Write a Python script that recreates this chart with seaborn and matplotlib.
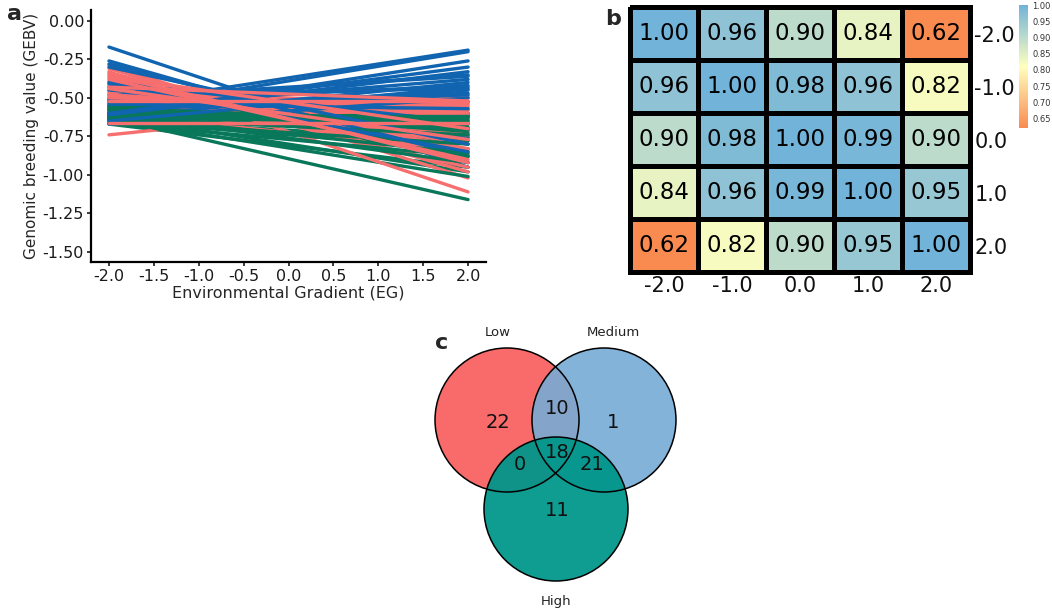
import numpy as np
import pandas as pd
import seaborn as sns
import matplotlib.pyplot as plt
from matplotlib.colors import LinearSegmentedColormap
from matplotlib.patches import Circle

# Panel a: GEBV de cada genotipo en los extremos del gradiente (EG = -2 y EG = 2)
eg_extremos = [-2.0, 2.0]

medium_ini = [-0.17, -0.26, -0.28, -0.41, -0.43, -0.45, -0.40, -0.30,
              -0.55, -0.58, -0.62, -0.60, -0.52, -0.57, -0.63, -0.65, -0.60, -0.56,
              -0.67, -0.54, -0.50, -0.53, -0.58, -0.61, -0.48, -0.51]
medium_fin = [-0.95, -0.92, -0.88, -0.85, -0.75, -0.60, -0.66, -0.80,
              -0.19, -0.20, -0.26, -0.30, -0.35, -0.38, -0.40, -0.43, -0.45, -0.47,
              -0.50, -0.57, -0.36, -0.42, -0.48, -0.33, -0.44, -0.53]

low_ini = [-0.29, -0.31, -0.33, -0.35, -0.37, -0.39, -0.42, -0.44, -0.46, -0.48,
           -0.50, -0.52, -0.55, -0.58, -0.62, -0.66, -0.74, -0.40, -0.47, -0.36,
           -0.45, -0.49, -0.53, -0.43, -0.51, -0.57, -0.34, -0.38, -0.60]
low_fin = [-1.02, -0.98, -1.11, -0.92, -0.88, -0.83, -0.80, -0.77, -0.72, -0.62,
           -0.56, -0.52, -0.49, -0.54, -0.58, -0.66, -0.50, -0.95, -0.87, -0.70,
           -0.55, -0.58, -0.60, -0.52, -0.65, -0.74, -0.84, -0.90, -0.85]

high_ini = [-0.53, -0.55, -0.57, -0.58, -0.60, -0.61, -0.62, -0.63, -0.64, -0.65,
            -0.66, -0.60, -0.62, -0.64, -0.63, -0.56, -0.59,
            -0.57, -0.60, -0.62, -0.64, -0.58, -0.65, -0.61, -0.67]
high_fin = [-0.60, -0.63, -0.65, -0.67, -0.69, -0.71, -0.62, -0.74, -0.78, -0.83,
            -0.88, -0.92, -0.98, -1.01, -1.16, -0.70, -0.76,
            -0.61, -0.64, -0.67, -0.70, -0.73, -0.80, -0.86, -0.95]

# Panel b: correlaciones entre niveles del gradiente
eg_labels = ['-2.0', '-1.0', '0.0', '1.0', '2.0']
corr = np.array([
    [1.00, 0.96, 0.90, 0.84, 0.62],
    [0.96, 1.00, 0.98, 0.96, 0.82],
    [0.90, 0.98, 1.00, 0.99, 0.90],
    [0.84, 0.96, 0.99, 1.00, 0.95],
    [0.62, 0.82, 0.90, 0.95, 1.00],
])

# Panel c: conteos del diagrama de Venn
venn_sets = ['Low', 'Medium', 'High']
venn_counts = [22, 1, 11, 10, 0, 21, 18]  # L, M, H, LM, LH, MH, LMH

colores = {'Low': '#f76e6e', 'Medium': '#1064b0', 'High': '#08775a'}

# armar tabla larga para seaborn; 'capa' sirve para intercalar el orden de dibujo
n_capas = 4
filas = []
for grupo, ini, fin in [('Medium', medium_ini, medium_fin), ('Low', low_ini, low_fin),
                        ('High', high_ini, high_fin)]:
    for i, (a, b) in enumerate(zip(ini, fin)):
        filas.append((f'{grupo}{i}', grupo, i % n_capas, eg_extremos[0], a))
        filas.append((f'{grupo}{i}', grupo, i % n_capas, eg_extremos[1], b))
df = pd.DataFrame(filas, columns=['id', 'grupo', 'capa', 'EG', 'GEBV'])

sns.set_theme(style='ticks')
plt.rcParams['font.family'] = ['DejaVu Sans']
plt.rcParams['axes.unicode_minus'] = False

fig = plt.figure(figsize=(10.52, 6.10), dpi=100)

# 1 Panel a
ax_a = fig.add_axes([0.0865, 0.5705, 0.3755, 0.413])
ordenes = [['High', 'Low', 'Medium'], ['Medium', 'High', 'Low'],
           ['Low', 'Medium', 'High'], ['High', 'Medium', 'Low']]
for k in range(n_capas):
    sns.lineplot(data=df[df['capa'] == k], x='EG', y='GEBV', hue='grupo', units='id',
                 estimator=None, hue_order=ordenes[k], palette=colores, lw=2.4,
                 legend=False, ax=ax_a)
ax_a.set_xlim(-2.2, 2.2)
ax_a.set_ylim(-1.565, 0.07)
xt = np.arange(-2, 2.01, 0.5)
ax_a.set_xticks(xt)
ax_a.set_xticklabels([f'{v:.1f}' for v in xt])
yt = np.arange(-1.5, 0.01, 0.25)
ax_a.set_yticks(yt)
ax_a.set_yticklabels([f'{v:.2f}' for v in yt])
ax_a.tick_params(labelsize=11.5, length=3, width=1.2, colors='#1a1a1a', pad=2)
ax_a.set_xlabel('Environmental Gradient (EG)', fontsize=11.5, labelpad=1)
ax_a.set_ylabel('Genomic breeding value (GEBV)', fontsize=11, labelpad=3)
sns.despine(ax=ax_a)
for s in ['left', 'bottom']:
    ax_a.spines[s].set_linewidth(1.6)
    ax_a.spines[s].set_color('black')

# 2 Panel b
cmap = LinearSegmentedColormap.from_list('oyb', ['#f98a50', '#ffffbf', '#72b3d9'])
ax_b = fig.add_axes([0.5989, 0.554, 0.3232, 0.434])
ax_cb = fig.add_axes([0.9686, 0.790, 0.0086, 0.2016])
sns.heatmap(corr, annot=True, fmt='.2f', cmap=cmap, linewidths=3.6, linecolor='black',
            xticklabels=eg_labels, yticklabels=eg_labels, cbar_ax=ax_cb,
            annot_kws={'size': 16.5, 'color': 'black'}, ax=ax_b)
ax_b.collections[0].set_clip_on(False)
ax_b.yaxis.tick_right()
ax_b.tick_params(length=0, labelsize=15, pad=3, colors='#111111')
plt.setp(ax_b.get_yticklabels(), rotation=0)
plt.setp(ax_b.get_xticklabels(), rotation=0)
cb = ax_b.collections[0].colorbar
cb.outline.set_visible(False)
cb.set_ticks(np.arange(0.65, 1.001, 0.05))
cb.set_ticklabels([f'{v:.2f}' for v in np.arange(0.65, 1.001, 0.05)])
ax_cb.tick_params(labelsize=6, length=0, pad=3, colors='#333333')

# 3 Panel c: Venn en coordenadas de pixel
ax_c = fig.add_axes([0, 0, 1, 1], zorder=-1)
ax_c.set_xlim(0, 1052)
ax_c.set_ylim(610, 0)
ax_c.axis('off')
r = 72
centros = {'Low': (507, 420), 'Medium': (604, 420), 'High': (556, 509)}
relleno = {'Low': ('#f96a6a', 1.0), 'Medium': ('#77abd5', 0.9), 'High': ('#00968a', 0.94)}
for nombre in venn_sets:
    c, a = relleno[nombre]
    ax_c.add_patch(Circle(centros[nombre], r, facecolor=c, alpha=a, edgecolor='none'))
for nombre in venn_sets:
    ax_c.add_patch(Circle(centros[nombre], r, facecolor='none', edgecolor='black', lw=1.1))

pos_numeros = [(498, 423), (613, 423), (557, 510), (557, 408), (520, 465), (592, 465), (557, 452)]
for n, (px, py) in zip(venn_counts, pos_numeros):
    ax_c.text(px, py, str(n), fontsize=14, ha='center', va='center', color='#111111')
pos_nombres = [(498, 332), (613, 332), (556, 601)]
for nombre, (px, py) in zip(venn_sets, pos_nombres):
    ax_c.text(px, py, nombre, fontsize=9.5, ha='center', va='center', color='#222222')

# letras de panel
fig.text(7 / 1052, 1 - 14 / 610, 'a', fontsize=16, fontweight='bold', va='center')
fig.text(605 / 1052, 1 - 19 / 610, 'b', fontsize=16, fontweight='bold', va='center')
fig.text(435 / 1052, 1 - 343 / 610, 'c', fontsize=16, fontweight='bold', va='center')

plt.savefig('out.png', dpi=100)
